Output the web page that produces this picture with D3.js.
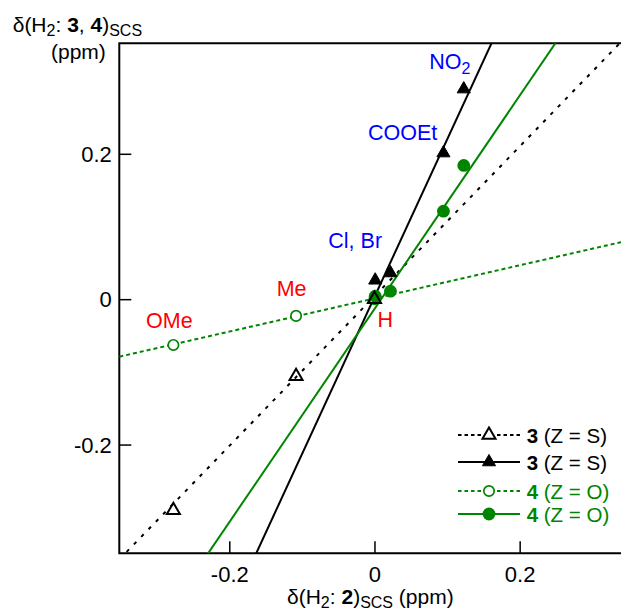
<!DOCTYPE html>
<html><head><meta charset="utf-8">
<script src="https://cdn.jsdelivr.net/npm/d3@7"></script>
<style>body{margin:0;background:#fff}svg{display:block}text{font-family:"Liberation Sans",Arial,sans-serif}</style>
</head><body>
<svg id="chart" width="621" height="615"></svg>
<script>
// ---- data ----
const substituents = ["OMe", "Me", "H", "Cl", "Br", "COOEt", "NO2"];
const xSCS2 = [-0.277, -0.108, 0, 0.001, 0.022, 0.095, 0.123];           // δ(H2: 2)SCS
const y3open = [-0.2905, -0.106, 0, null, null, null, null];             // 3 (Z = S), open
const y3fill = [null, null, null, 0.026, 0.036, 0.201, 0.289];          // 3 (Z = S), filled
const y4open = [-0.063, -0.023, 0, null, null, null, null];              // 4 (Z = O), open
const y4fill = [null, null, null, 0.004, 0.011, 0.121, 0.184];           // 4 (Z = O), filled
const fitSlopes = [1.03, 2.165, 0.228, 1.467];
const fitIntercepts = [0.004, 0.003, 0.001, -0.0135];
const xTicks = [-0.2, 0, 0.2];
const yTicks = [-0.2, 0, 0.2];
const legendLabels = ["3", "3", "4", "4"];
const legendSuffix = [" (Z = S)", " (Z = S)", " (Z = O)", " (Z = O)"];

const GREEN = "#008500", BLUE = "#0000ff", RED = "#ff0000";
const svg = d3.select("#chart");
const L = 119.3, R = 621, T = 43.3, B = 553.3;
const x = d3.scaleLinear().domain([-0.3515, 0.3396]).range([L, R]);
const y = d3.scaleLinear().domain([-0.3496, 0.352]).range([B, T]);

svg.append("defs").append("clipPath").attr("id", "clip")
  .append("rect").attr("x", L).attr("y", T).attr("width", R - L).attr("height", B - T);

const fmt = d => d === 0 ? "0" : (d < 0 ? "-" : "") + Math.abs(d).toFixed(1);

// axes
const gx = svg.append("g").attr("transform", `translate(0,${B})`)
  .call(d3.axisBottom(x).tickValues(xTicks).tickSizeInner(-12).tickSizeOuter(0).tickFormat(fmt));
const gy = svg.append("g").attr("transform", `translate(${L},0)`)
  .call(d3.axisLeft(y).tickValues(yTicks).tickSizeInner(-12).tickSizeOuter(0).tickFormat(fmt));
[gx, gy].forEach(g => {
  g.select(".domain").remove();
  g.selectAll(".tick line").attr("stroke", "#000").attr("stroke-width", 1.5);
  g.selectAll(".tick text").attr("font-size", 22).attr("fill", "#000")
    .attr("font-family", '"Liberation Sans",Arial,sans-serif');
});
gx.selectAll(".tick text").attr("dy", null).attr("y", 28.5);
gy.selectAll(".tick text").attr("dy", null).attr("x", -7.5).attr("y", 7.8);
// frame (left, top, bottom)
svg.append("path").attr("d", `M${R},${T}H${L}V${B}H${R}`)
  .attr("fill", "none").attr("stroke", "#000").attr("stroke-width", 2);

// fit lines
const lineStyles = [
  {color: "#000", dash: "3.5,7"},
  {color: "#000", dash: null},
  {color: GREEN, dash: "4,3"},
  {color: GREEN, dash: null}
];
const gl = svg.append("g").attr("clip-path", "url(#clip)");
fitSlopes.forEach((m, i) => {
  const xs = x.domain();
  gl.append("line")
    .attr("x1", x(xs[0])).attr("y1", y(m * xs[0] + fitIntercepts[i]))
    .attr("x2", x(xs[1])).attr("y2", y(m * xs[1] + fitIntercepts[i]))
    .attr("stroke", lineStyles[i].color).attr("stroke-width", 2)
    .attr("stroke-dasharray", lineStyles[i].dash);
});

// markers
const tri = d3.symbol().type(d3.symbolTriangle).size(74);
function pts(ys) { return xSCS2.map((v, i) => ({x: v, y: ys[i]})).filter(d => d.y !== null); }
const gm = svg.append("g");
gm.selectAll(".o4").data(pts(y4open)).join("circle")
  .attr("cx", d => x(d.x)).attr("cy", d => y(d.y)).attr("r", 5.2)
  .attr("fill", "#fff").attr("stroke", GREEN).attr("stroke-width", 1.7);
gm.selectAll(".f4").data(pts(y4fill)).join("circle")
  .attr("cx", d => x(d.x)).attr("cy", d => y(d.y)).attr("r", 6.4).attr("fill", GREEN);
gm.selectAll(".o3").data(pts(y3open)).join("path")
  .attr("d", tri).attr("transform", d => `translate(${x(d.x)},${y(d.y)})`)
  .attr("fill", "none").attr("stroke", "#000").attr("stroke-width", 2);
gm.selectAll(".f3").data(pts(y3fill)).join("path")
  .attr("d", tri).attr("transform", d => `translate(${x(d.x)},${y(d.y)})`)
  .attr("fill", "#000").attr("stroke", "#000").attr("stroke-width", 1);

// point labels
const ann = [
  {t: "NO", sub: "2", x: 429.3, y: 69.3, c: BLUE},
  {t: "COOEt", x: 368, y: 140, c: BLUE},
  {t: "Cl, Br", x: 328.3, y: 248, c: BLUE},
  {t: "Me", x: 276.7, y: 295.7, c: RED},
  {t: "OMe", x: 146, y: 328, c: RED},
  {t: "H", x: 377.5, y: 327.3, c: RED}
];
ann.forEach(a => {
  const t = svg.append("text").attr("x", a.x).attr("y", a.y).attr("fill", a.c).attr("font-size", 21.5).text(a.t);
  if (a.sub) t.append("tspan").attr("font-size", 16).attr("dy", 5).text(a.sub);
});

// axis titles
const yt = svg.append("text").attr("x", 12.7).attr("y", 32).attr("font-size", 21).attr("fill", "#000");
yt.append("tspan").text("δ(H");
yt.append("tspan").attr("font-size", 16).attr("dy", 4).text("2");
yt.append("tspan").attr("dy", -4).text(": ");
yt.append("tspan").attr("font-weight", "bold").text("3");
yt.append("tspan").text(", ");
yt.append("tspan").attr("font-weight", "bold").text("4");
yt.append("tspan").text(")");
yt.append("tspan").attr("font-size", 16).attr("dy", 4).text("SCS");
svg.append("text").attr("x", 51).attr("y", 59).attr("font-size", 21).attr("fill", "#000").text("(ppm)");

const xt = svg.append("text").attr("x", 287).attr("y", 604).attr("font-size", 21).attr("fill", "#000");
xt.append("tspan").text("δ(H");
xt.append("tspan").attr("font-size", 16).attr("dy", 4).text("2");
xt.append("tspan").attr("dy", -4).text(": ");
xt.append("tspan").attr("font-weight", "bold").text("2");
xt.append("tspan").text(")");
xt.append("tspan").attr("font-size", 16).attr("dy", 4).text("SCS");
xt.append("tspan").attr("dy", -4).text(" (ppm)");

// legend
const legY = [435, 462, 491, 514];
const lg = svg.append("g");
legY.forEach((ly, i) => {
  const st = lineStyles[i];
  lg.append("line").attr("x1", 458).attr("x2", 520).attr("y1", ly).attr("y2", ly)
    .attr("stroke", st.color).attr("stroke-width", 2)
    .attr("stroke-dasharray", st.dash ? "3.5,3" : null);
  if (i === 0) lg.append("path").attr("d", tri).attr("transform", `translate(489,${ly})`)
    .attr("fill", "#fff").attr("stroke", "#000").attr("stroke-width", 2);
  if (i === 1) lg.append("path").attr("d", tri).attr("transform", `translate(489,${ly})`)
    .attr("fill", "#000").attr("stroke", "#000").attr("stroke-width", 1);
  if (i === 2) lg.append("circle").attr("cx", 489).attr("cy", ly).attr("r", 5.2)
    .attr("fill", "#fff").attr("stroke", GREEN).attr("stroke-width", 1.7);
  if (i === 3) lg.append("circle").attr("cx", 489).attr("cy", ly).attr("r", 6.4).attr("fill", GREEN);
  const t = lg.append("text").attr("x", 526.7).attr("y", ly + 7.5).attr("font-size", 20.5)
    .attr("fill", i < 2 ? "#000" : GREEN);
  t.append("tspan").attr("font-weight", "bold").text(legendLabels[i]);
  t.append("tspan").text(legendSuffix[i]);
});
</script>
</body></html>
